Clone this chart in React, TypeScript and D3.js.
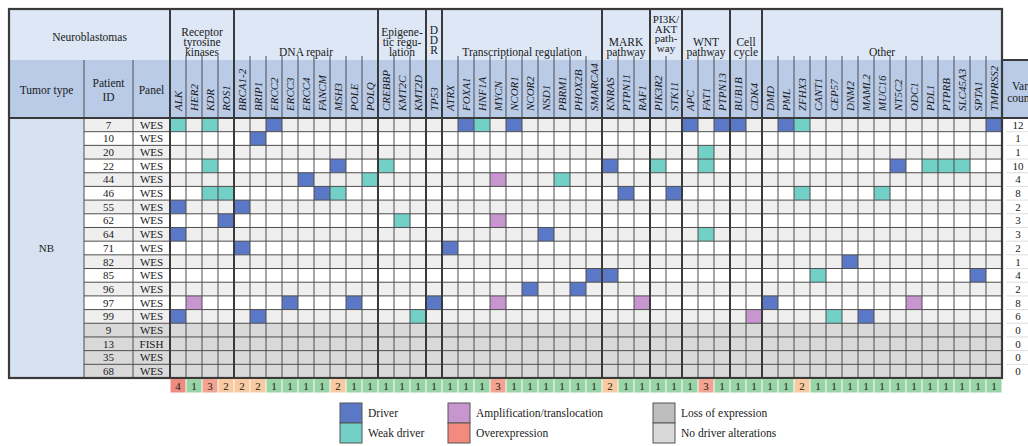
import React from "react";
import * as d3 from "d3";

// ---------- data ----------
const groupLabels: string[][] = [
  ["Receptor", "tyrosine", "kinases"],
  ["DNA repair"],
  ["Epigene-", "tic regu-", "lation"],
  ["D", "D", "R"],
  ["Transcriptional regulation"],
  ["MARK", "pathway"],
  ["PI3K/", "AKT", "path-", "way"],
  ["WNT", "pathway"],
  ["Cell", "cycle"],
  ["Other"],
];
const groupGenes: string[][] = [
  ["ALK", "HER2", "KDR", "ROS1"],
  ["BRCA1-2", "BRIP1", "ERCC2", "ERCC3", "ERCC4", "FANCM", "MSH3", "POLE", "POLQ"],
  ["CREBBP", "KMT2C", "KMT2D"],
  ["TP53"],
  ["ATRX", "FOXA1", "HNF1A", "MYCN", "NCOR1", "NCOR2", "NSD1", "PBRM1", "PHOX2B", "SMARCA4"],
  ["KNRAS", "PTPN11", "RAF1"],
  ["PIK3R2", "STK11"],
  ["APC", "FAT1", "PTPN13"],
  ["BUB1B", "CDK4"],
  ["DMD", "PML", "ZFHX3", "CANT1", "CEP57", "DNM2", "MAML2", "MUC16", "NT5C2", "ODC1", "PDL1", "PTPRB", "SLC45A3", "SPTA1", "TMPRSS2"],
];
const patients = ["7", "10", "20", "22", "44", "46", "55", "62", "64", "71", "82", "85", "96", "97", "99", "9", "13", "35", "68"];
const panels = ["WES", "WES", "WES", "WES", "WES", "WES", "WES", "WES", "WES", "WES", "WES", "WES", "WES", "WES", "WES", "WES", "FISH", "WES", "WES"];
const varCounts = [12, 1, 1, 10, 4, 8, 2, 3, 3, 2, 1, 4, 2, 8, 6, 0, 0, 0, 0];
const geneCounts = [
  4, 1, 3, 2,
  2, 2, 1, 1, 1, 1, 2, 1, 1,
  1, 1, 1,
  1,
  1, 1, 1, 3, 1, 1, 1, 1, 1, 1,
  2, 1, 1,
  1, 1,
  1, 3, 1,
  1, 1,
  1, 1, 2, 1, 1, 1, 1, 1, 1, 1, 1, 1, 1, 1, 1,
];
// D = driver, W = weak driver, A = amplification/translocation
const alterations: [string, string, string][] = [
  ["7", "ALK", "W"], ["7", "KDR", "W"], ["7", "ERCC2", "D"], ["7", "FOXA1", "D"], ["7", "HNF1A", "W"], ["7", "NCOR1", "D"],
  ["7", "APC", "D"], ["7", "PTPN13", "D"], ["7", "BUB1B", "D"], ["7", "PML", "D"], ["7", "ZFHX3", "W"], ["7", "TMPRSS2", "D"],
  ["10", "BRIP1", "D"],
  ["20", "FAT1", "W"],
  ["22", "KDR", "W"], ["22", "MSH3", "D"], ["22", "CREBBP", "W"], ["22", "KNRAS", "D"], ["22", "PIK3R2", "W"], ["22", "FAT1", "W"],
  ["22", "NT5C2", "D"], ["22", "PDL1", "W"], ["22", "PTPRB", "W"], ["22", "SLC45A3", "W"],
  ["44", "ERCC4", "D"], ["44", "POLQ", "W"], ["44", "MYCN", "A"], ["44", "PBRM1", "W"],
  ["46", "KDR", "W"], ["46", "ROS1", "W"], ["46", "FANCM", "D"], ["46", "MSH3", "W"], ["46", "PTPN11", "D"], ["46", "STK11", "D"],
  ["46", "ZFHX3", "W"], ["46", "MUC16", "W"],
  ["55", "ALK", "D"], ["55", "BRCA1-2", "D"],
  ["62", "ROS1", "D"], ["62", "KMT2C", "W"], ["62", "MYCN", "A"],
  ["64", "ALK", "D"], ["64", "NSD1", "D"], ["64", "FAT1", "W"],
  ["71", "BRCA1-2", "D"], ["71", "ATRX", "D"],
  ["82", "DNM2", "D"],
  ["85", "SMARCA4", "D"], ["85", "KNRAS", "D"], ["85", "CANT1", "W"], ["85", "SPTA1", "D"],
  ["96", "NCOR2", "D"], ["96", "PHOX2B", "D"],
  ["97", "HER2", "A"], ["97", "ERCC3", "D"], ["97", "POLE", "D"], ["97", "TP53", "D"], ["97", "MYCN", "A"], ["97", "RAF1", "A"],
  ["97", "DMD", "D"], ["97", "ODC1", "A"],
  ["99", "ALK", "D"], ["99", "BRIP1", "D"], ["99", "KMT2D", "W"], ["99", "CDK4", "A"], ["99", "CEP57", "W"], ["99", "MAML2", "D"],
];
const legendItems = [
  ["Driver", "Weak driver"],
  ["Amplification/translocation", "Overexpression"],
  ["Loss of expression", "No driver alterations"],
];

// ---------- style ----------
const FONT = "'Liberation Serif', 'Times New Roman', serif";
const C = {
  D: "#5b78c6",
  W: "#72d0c6",
  A: "#c796cf",
  O: "#f28b7d",
  L: "#bdbdbd",
  N: "#d9d9d9",
  rowGrey: "#efefef",
  hdrTop: "#dde7f5",
  hdrLow: "#b9cbe7",
  tumor: "#d6e2f2",
  line: "#4d4d4d",
  thick: "#3a3a3a",
};
const countColor = (v: number) => (v >= 4 ? "#ee8b80" : v === 3 ? "#f4a391" : v === 2 ? "#f9caa2" : "#98d4a6");

export default function App() {
  const genes = groupGenes.flat();
  const L = { left: 9, top: 9, mid: 60, hdrBot: 118, idX: 84, panelX: 133, gx0: 170, gx1: 1002, varX1: 1036 };
  const x = d3.scaleBand<string>().domain(genes).range([L.gx0, L.gx1]);
  const y = d3.scaleBand<string>().domain(patients).range([L.hdrBot, 378]);
  const bw = x.bandwidth();
  const bh = y.bandwidth();
  const bottom = L.hdrBot + bh * patients.length;

  const altMap = new Map<string, string>();
  alterations.forEach(([p, g, t]) => altMap.set(p + "|" + g, t));

  const rowBg = (i: number) => (varCounts[i] === 0 ? C.N : i % 2 === 0 ? C.rowGrey : "#ffffff");

  const bounds: number[] = [];
  let acc = 0;
  groupGenes.forEach((g) => {
    bounds.push(acc);
    acc += g.length;
  });
  const boundSet = new Set(bounds);

  const els: React.ReactNode[] = [];

  els.push(<rect key="ht" x={L.left} y={L.top} width={L.gx1 - L.left} height={L.mid - L.top} fill={C.hdrTop} />);
  els.push(<rect key="hl" x={L.left} y={L.mid} width={L.gx1 - L.left} height={L.hdrBot - L.mid} fill={C.hdrLow} />);
  els.push(<rect key="hv" x={L.gx1} y={L.mid} width={L.varX1 - L.gx1} height={L.hdrBot - L.mid} fill={C.hdrLow} />);
  els.push(<rect key="tc" x={L.left} y={L.hdrBot} width={L.idX - L.left} height={bottom - L.hdrBot} fill={C.tumor} />);

  patients.forEach((p, i) => {
    const yy = y(p)!;
    els.push(<rect key={"rb" + p} x={L.idX} y={yy} width={L.gx1 - L.idX} height={bh} fill={rowBg(i)} />);
    genes.forEach((g) => {
      const t = altMap.get(p + "|" + g);
      if (t) els.push(<rect key={"c" + p + g} x={x(g)!} y={yy} width={bw} height={bh} fill={(C as any)[t]} />);
    });
  });

  genes.forEach((g, j) => {
    if (j === 0 || boundSet.has(j)) return;
    els.push(<line key={"vl" + g} x1={x(g)!} x2={x(g)!} y1={L.mid - 4} y2={bottom} stroke={C.line} strokeWidth={1} />);
  });
  patients.forEach((p, i) => {
    if (i === 0) return;
    const yy = y(p)!;
    els.push(<line key={"hl" + p} x1={L.idX} x2={L.gx1} y1={yy} y2={yy} stroke={C.line} strokeWidth={1} />);
    els.push(<line key={"hv" + p} x1={L.gx1 + 4} x2={L.varX1 - 6} y1={yy} y2={yy} stroke="#c8c8c8" strokeWidth={0.6} />);
  });
  [L.idX, L.panelX].forEach((xx, k) =>
    els.push(<line key={"lc" + k} x1={xx} x2={xx} y1={L.mid} y2={bottom} stroke={C.line} strokeWidth={1} />)
  );
  bounds.forEach((b, k) => {
    const xx = x(genes[b])!;
    els.push(<line key={"gb" + k} x1={xx} x2={xx} y1={L.top} y2={bottom} stroke={C.thick} strokeWidth={2} />);
  });
  els.push(<line key="hb" x1={L.left} x2={L.varX1} y1={L.hdrBot} y2={L.hdrBot} stroke={C.thick} strokeWidth={2} />);
  els.push(<line key="vt" x1={L.gx1} x2={L.varX1} y1={L.mid} y2={L.mid} stroke={C.thick} strokeWidth={2} />);
  els.push(
    <rect key="ob" x={L.left} y={L.top} width={L.gx1 - L.left} height={bottom - L.top} fill="none" stroke={C.thick} strokeWidth={2.2} />
  );

  const txt = (key: string, tx: number, ty: number, s: string, extra: any = {}) => (
    <text key={key} x={tx} y={ty} dy="0.35em" textAnchor="middle" fontFamily={FONT} fontSize={11.5} fill="#1a1a1a" {...extra}>
      {s}
    </text>
  );
  els.push(txt("nb", (L.left + L.gx0) / 2, 37, "Neuroblastomas"));
  els.push(txt("tt", (L.left + L.idX) / 2, 90, "Tumor type"));
  els.push(txt("pi1", (L.idX + L.panelX) / 2, 83, "Patient"));
  els.push(txt("pi2", (L.idX + L.panelX) / 2, 97, "ID"));
  els.push(txt("pn", (L.panelX + L.gx0) / 2, 90, "Panel"));
  els.push(txt("vc1", 1020, 86, "Var"));
  els.push(txt("vc2", 1020, 98, "count"));

  groupLabels.forEach((lines, k) => {
    const g0 = groupGenes[k][0];
    const g1 = groupGenes[k][groupGenes[k].length - 1];
    const cx = (x(g0)! + x(g1)! + bw) / 2;
    const four = lines.length === 4;
    const lh = four ? 9.5 : 10;
    const last = four ? 48 : lines[0] === "D" ? 50 : 52;
    lines.forEach((s, li) => {
      els.push(txt("gl" + k + "_" + li, cx, last - (lines.length - 1 - li) * lh, s, four ? { fontSize: 11 } : {}));
    });
  });

  genes.forEach((g) => {
    const cx = x(g)! + bw / 2;
    els.push(
      <text
        key={"gn" + g}
        transform={`translate(${cx},111) rotate(-90)`}
        dy="0.35em"
        textAnchor="start"
        fontFamily={FONT}
        fontStyle="italic"
        fontSize={11}
        fill="#1a1a1a"
      >
        {g}
      </text>
    );
  });

  els.push(txt("nbt", (L.left + L.idX) / 2, (L.hdrBot + bottom) / 2, "NB", { fontSize: 11 }));
  patients.forEach((p, i) => {
    const cy = y(p)! + bh / 2;
    els.push(txt("pid" + p, (L.idX + L.panelX) / 2, cy, p, { fontSize: 11 }));
    els.push(txt("pnl" + p, (L.panelX + L.gx0) / 2, cy, panels[i], { fontSize: 11 }));
    els.push(txt("vcn" + p, 1018, cy, String(varCounts[i]), { fontSize: 11 }));
  });

  const cy0 = bottom + 1;
  const ch = 13.5;
  genes.forEach((g, j) => {
    els.push(<rect key={"cr" + g} x={x(g)! + 0.5} y={cy0} width={bw - 1} height={ch} fill={countColor(geneCounts[j])} />);
    els.push(txt("ct" + g, x(g)! + bw / 2, cy0 + ch / 2, String(geneCounts[j]), { fontSize: 11 }));
  });

  const legX = [340, 448, 653];
  const legCols = [
    [C.D, C.W],
    [C.A, C.O],
    [C.L, C.N],
  ];
  legendItems.forEach((pair, k) => {
    pair.forEach((s, r) => {
      const by = 403 + r * 20;
      els.push(
        <rect key={"lb" + k + r} x={legX[k]} y={by} width={22} height={20} fill={legCols[k][r]} stroke="#555" strokeWidth={1} />
      );
      els.push(
        <text key={"lt" + k + r} x={legX[k] + 28} y={by + 10} dy="0.35em" fontFamily={FONT} fontSize={11.5} fill="#1a1a1a">
          {s}
        </text>
      );
    });
  });

  return (
    <svg width={1028} height={446} style={{ position: "absolute", left: 0, top: 0, background: "#fff" }}>
      {els}
    </svg>
  );
}
